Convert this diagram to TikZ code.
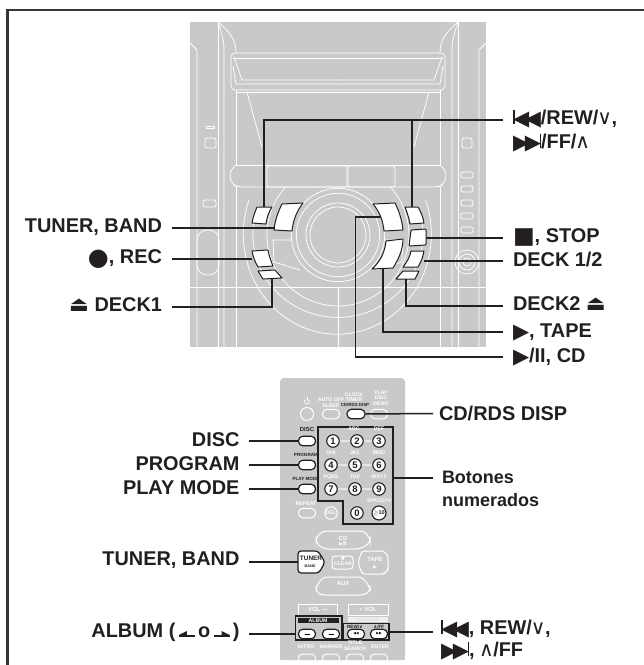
\documentclass[tikz,border=0pt]{standalone}
\usepackage{fontspec}
\setmainfont{Liberation Sans}
\newfontfamily\symf{DejaVu Sans}
\definecolor{ink}{HTML}{231F20}
\definecolor{devgray}{HTML}{C8C9CB}
\newcommand\sy[2][15.5]{{\symf\fontsize{#1}{#1}\selectfont #2}}
\newcommand\syb[3][22]{\raisebox{#3}{\smash{\sy[#1]{#2}}}}
\newcommand\pl{\syb[21]{▶}{-1.4pt}}
\newcommand\bk{\syb[21]{◀}{-1.4pt}}
\newcommand\tbar{\rule{1.6pt}{13.6pt}}
\newcommand\prevs{\tbar\kern-1.6pt\bk\kern-4.4pt\bk}
\newcommand\nexts{\pl\kern-4.4pt\pl\kern-1.6pt\tbar}
\newcommand\ejectg{\syb[21]{⏏}{-.8pt}}
\newcommand\veeg{\kern-1pt{\mdseries\syb[20]{∨}{0pt}}\kern-.5pt}
\newcommand\wedgeg{\kern-1pt{\mdseries\syb[20]{∧}{0pt}}\kern-.5pt}
\newcommand\albarrow[1]{\tikz[baseline=0pt,x=1pt,y=1pt]{\fill[ink] (0,0) rectangle (16,2);\fill[ink] (#1,2) -- (8,2) -- (8,6) -- cycle;}}
\tikzset{
  lab/.style={font=\bfseries\fontsize{19.9}{22}\selectfont,text=ink,inner sep=0pt,text height=14pt,text depth=6pt},
  labl/.style={lab,anchor=east,outer xsep=9.5pt},
  labr/.style={lab,anchor=west,outer xsep=10pt},
  conn/.style={draw=ink,line width=1.5pt,line join=miter},
  frameline/.style={draw=ink!90,line width=2.5pt},
  wl/.style={draw=white,line width=.75pt},
  rwl/.style={draw=white,line width=1pt},
  btn/.style={draw=ink,fill=white,line width=1pt,line join=round},
  num/.style={circle,draw=ink,fill=white,line width=1.1pt,minimum size=12.5pt,inner sep=0pt,font=\bfseries\fontsize{9.5}{10}\selectfont,text=ink},
  oval/.style={draw=ink,fill=white,line width=1.2pt,rounded corners=4.4pt,minimum width=17pt,minimum height=9.5pt,inner sep=0pt},
  wov/.style={rwl,rounded corners=4.4pt,minimum width=17pt,minimum height=9.5pt,inner sep=0pt},
  rw/.style={font=\bfseries\fontsize{5.2}{5.6}\selectfont,text=white,inner sep=0pt,align=center},
  rb/.style={font=\bfseries\fontsize{5.2}{5.6}\selectfont,text=ink,inner sep=0pt,align=center},
}
\newcommand\devhalf{%
  \draw[wl] (190,43) -- (197,50) -- (197,347);
  \draw[wl] (218,22) -- (218,347);
  \draw[wl] (218,22) .. controls (222,35) and (224,40) .. (224,50) -- (224,347);
  \draw[wl] (218,22) .. controls (230,32) and (236,40) .. (236,53);
  \draw[wl] (236,90) -- (236,165);
  \draw[wl] (236,187) -- (236,347);
  \draw[wl] (247,92) -- (262,147);
  \draw[wl] (234,57) -- (242,80) -- (338,80);
  \draw[wl] (233,58) -- (338,58);
  \draw[wl] (233,66) -- (236,84) -- (338,84);
}
\begin{document}
\begin{tikzpicture}[x=1pt,y=-1pt]
\useasboundingbox (0,0) rectangle (644,665);
\path[fill=white] (0,0) rectangle (644,665);
% frame
\draw[frameline] (7.3,665) -- (7.3,10) -- (644,10);
% ---------- main unit ----------
\fill[devgray] (190,22) rectangle (486,347);
\devhalf
\begin{scope}[shift={(676,0)},xscale=-1]\devhalf\end{scope}
\draw[wl,rounded corners=4pt] (231,53) rectangle (445,90);
\draw[wl] (236,92) -- (440,92);
\draw[wl] (236,165) -- (440,165);
\draw[wl,rounded corners=5pt] (236,165) -- (232,168) -- (229,176) -- (233,185) -- (238,187) -- (438,187) -- (443,185) -- (447,176) -- (444,168) -- (440,165);
\draw[wl,rounded corners=2pt] (267,166) rectangle (347,187);
\draw[wl,rounded corners=2pt] (348,166) rectangle (395,187);
\draw[wl] (190,287) -- (486,287);
\draw[wl] (338,287) -- (338,347);
\draw[wl] (338,235) circle[radius=46.7];
\draw[wl] (338,235) circle[radius=41.7];
\draw[wl] (338,235) circle[radius=32];
\draw[wl] (338,235) circle[radius=28];
\draw[wl] (249,200) arc[start angle=200,end angle=-20,x radius=94,y radius=100];
\draw[wl] (258,206) arc[start angle=200,end angle=-20,x radius=85,y radius=83];
\draw[wl] (285.6,187) arc[start angle=222.5,end angle=-42.5,radius=71];
\draw[wl] (292,240) -- (273,240) -- (274,262) -- (300,270);
\draw[wl] (384,240) -- (403,240) -- (402,262) -- (376,270);
% side details
\draw[wl] (206,126) rectangle (214,128);
\draw[wl,rounded corners=1.5pt] (205,138) rectangle (216,148);
\draw[wl,rounded corners=2pt] (203,200) rectangle (216,207);
\draw[wl,rounded corners=10pt] (197,230) rectangle (219,275);
\draw[wl,rounded corners=1.5pt] (462,138) rectangle (472,148);
\foreach \yy in {172,186,200,213,227} \draw[wl,rounded corners=1.5pt] (461,\yy) rectangle (473,\yy+6);
\foreach \rr in {12,8,4} \draw[wl] (467,262) circle[radius=\rr];
% buttons
\draw[btn] (257,207) -- (272,207) .. controls (268,213) and (267,218) .. (266,224) -- (252,223) .. controls (253,217) and (255,212) .. (257,207) -- cycle;
\draw[btn] (282,204) -- (303,203) .. controls (297,211) and (293,220) .. (292,231) -- (274,230) .. controls (275,220) and (278,212) .. (282,204) -- cycle;
\draw[btn] (252,251) -- (268,250) .. controls (269,256) and (271,261) .. (273,266) -- (258,267) .. controls (255,262) and (253,257) .. (252,251) -- cycle;
\draw[btn] (258,271) -- (275,270) -- (282,278) -- (263,279) -- cycle;
\draw[btn] (405,207) -- (418,207) .. controls (421,212) and (423,217) .. (424,223) -- (410,224) .. controls (409,218) and (407,212) .. (405,207) -- cycle;
\draw[btn] (373,204) -- (395,203) .. controls (399,211) and (402,220) .. (403,230) -- (384,231) .. controls (383,220) and (379,211) .. (373,204) -- cycle;
\draw[btn] (386,241) -- (403,239) .. controls (403,250) and (398,260) .. (393,268) -- (372,269) .. controls (380,262) and (385,252) .. (386,241) -- cycle;
\draw[btn,rounded corners=1pt] (411,230) -- (426,229) -- (426,245) -- (409,246) -- cycle;
\draw[btn] (411,251) -- (424,251) .. controls (423,257) and (421,262) .. (418,267) -- (403,267) .. controls (407,262) and (410,257) .. (411,251) -- cycle;
\draw[btn] (403,271) -- (419,271) -- (415,279) -- (396,279) -- cycle;
\coordinate (bPrev) at (264,206.5);
\coordinate (bNext) at (412,206.5);
\coordinate (bTuner) at (274.5,228);
\coordinate (bRec) at (252,259);
\coordinate (bEjA) at (272,279);
\coordinate (bStop) at (426,238);
\coordinate (bDeck) at (424,261);
\coordinate (bEjB) at (406,279);
\coordinate (bTape) at (383,268.5);
\coordinate (bCD) at (381,217);
% labels, main unit
\node[labl] (tunerA) at (171.5,228) {TUNER, BAND};
\node[labl,text depth=6pt] (rec) at (171.5,259) {\syb[24]{●}{-2.2pt}, REC};
\node[labl] (deckA) at (171.5,307) {\ejectg\ DECK1};
\node[labr] (prev) at (503,120) {\prevs/REW/\veeg,};
\node[lab,anchor=base west] (next) at (513,148) {\nexts/FF/\wedgeg};
\node[labr] (stop) at (503,238) {\syb[23]{■}{-1.2pt}, STOP};
\node[labr,text depth=4pt] (deckS) at (503,261) {DECK 1/2};
\node[labr] (deckB) at (503,306) {DECK2 \ejectg};
\node[labr,text depth=4pt] (tape) at (503,332) {\pl, TAPE};
\node[labr,text depth=4pt] (cd) at (503,357) {\pl/II, CD};
% connectors, main unit
\draw[conn] (tunerA.east) -- (bTuner);
\draw[conn] (rec.east) -- (bRec);
\draw[conn] (deckA.east) -| (bEjA);
\draw[conn] (prev.west) -| (bPrev);
\draw[conn] (prev.west -| bNext) -- (bNext);
\draw[conn] (stop.west) -- (bStop);
\draw[conn] (deckS.west) -- (bDeck);
\draw[conn] (deckB.west) -| (bEjB);
\draw[conn] (tape.west) -| (bTape);
\draw[conn] (cd.west) -| (355.5,217) -- (bCD);
% ---------- remote ----------
\fill[devgray,rounded corners=4pt] (280,660) -- (280,378) -- (405,378) -- (405,660) -- cycle;
\fill[devgray] (280,650) rectangle (405,660);
% white connecting bands between number keys
\foreach \yy in {441,465,489} \draw[white,line width=1.4pt,opacity=.5] (333,\yy) -- (379,\yy);
\draw[white,line width=.6pt] (304.7,399.5) arc[start angle=215,end angle=-35,radius=2.8];
\draw[white,line width=.6pt] (307,397) -- (307,401);
\node[rw,draw=white,circle,line width=1pt,minimum size=13pt] (pw) at (307,414) {};
\node[wov] (aoff) at (331,414) {};
\node[wov] (pdisc) at (379,414) {};
\node[rw] (taoff) at (331,403) {AUTO OFF\\SLEEP};
\node[rw] (tclock) at (354,397) {CLOCK\\TIMER};
\node[rw] (tpd) at (381,398) {PLAY\\DISC\\DEMO};
\node[rb] (tcd) at (355,405) {\fontsize{4.4}{5}\selectfont CD/RDS DISP};
\node[oval,minimum width=18pt] (bcdr) at (356,414) {};
\node[rb,font=\bfseries\fontsize{6}{6}\selectfont] (tdisc) at (307,429) {DISC};
\node[rb,font=\bfseries\fontsize{4.6}{5}\selectfont] (tprog) at (306,455) {PROGRAM};
\node[rb,font=\bfseries\fontsize{4.6}{5}\selectfont] (tplay) at (306,479) {PLAY MODE};
\node[oval] (bdisc) at (307,441) {};
\node[oval] (bprog) at (307,465) {};
\node[oval] (bplay) at (307,489) {};
\node[rw] (trep) at (306,504) {REPEAT};
\node[wov] (brep) at (307,513) {};
\node[rw,draw=white,circle,line width=1pt,minimum size=12.5pt] (bdel) at (331,513) {DEL};
% number block
\node[inner sep=0pt,minimum size=0pt] (nbk) at (393,478) {};
\draw[draw=ink,line width=1.3pt] (318,427) -- (393,427) -- (nbk.center) -- (393,524) -- (343,524) -- (343,501) -- (318,501) -- cycle;
\node[rw] (tabc) at (354,429) {ABC};
\node[rw] (tdef) at (379,429) {DEF};
\node[rw] (tghi) at (331,453) {GHI};
\node[rw] (tjkl) at (355,453) {JKL};
\node[rw] (tmno) at (379,453) {MNO};
\node[rw] (tpqr) at (331,477) {PQRS};
\node[rw] (ttuv) at (355,477) {TUV};
\node[rw] (twxy) at (379,477) {WXYZ};
\node[rw] (tspc) at (379,501) {SPACE/*\#};
\node[num] (n1) at (333,441) {1};
\node[num] (n2) at (357,441) {2};
\node[num] (n3) at (379,441) {3};
\node[num] (n4) at (331,465) {4};
\node[num] (n5) at (355,465) {5};
\node[num] (n6) at (379,465) {6};
\node[num] (n7) at (331,489) {7};
\node[num] (n8) at (355,489) {8};
\node[num] (n9) at (379,489) {9};
\node[num] (n0) at (357,513) {0};
\node[num,font=\bfseries\fontsize{5.5}{6}\selectfont,minimum width=14pt] (n10) at (379,513) {$\geq$10};
% function keys
\draw[rwl,rounded corners=4pt] (316,538) -- (322,531) -- (364,531) -- (370,538) -- (370,543) -- (360,549) -- (324,549) -- (316,543) -- cycle;
\node[rw,font=\bfseries\fontsize{6}{6}\selectfont] (tcdk) at (343,538) {CD};
\node[rw] (tcdp) at (343,544) {\sy[4.5]{▶}/II};
\draw[btn,line width=1.2pt,rounded corners=3pt] (298,551) -- (318,551) -- (325,562) -- (319,573) -- (298,573) -- cycle;
\node[rb,font=\bfseries\fontsize{6.4}{6.5}\selectfont] (ttun) at (311,558) {TUNER};
\node[rb,font=\bfseries\fontsize{3.8}{4}\selectfont] (tband) at (310,566) {BAND};
\coordinate (bTun) at (298,562);
\draw[rwl,rounded corners=3pt] (332,556) rectangle (353,569);
\node[rw] (tclr) at (343,561) {\sy[4]{■}\\CLEAR};
\draw[rwl,rounded corners=3pt] (362,551) -- (384,551) -- (388,556) -- (388,570) -- (384,574) -- (362,574) -- (358,562) -- cycle;
\node[rw,font=\bfseries\fontsize{5.8}{6}\selectfont] (ttap) at (375,559) {TAPE};
\node[rw] (ttp2) at (375,567) {\sy[4.5]{▶}};
\draw[rwl,rounded corners=4pt] (316,587) -- (323,577) -- (362,577) -- (370,587) -- (370,592) -- (363,595) -- (322,595) -- (316,592) -- cycle;
\node[rw,font=\bfseries\fontsize{5.8}{6}\selectfont] (taux) at (343,584) {AUX};
\draw[rwl] (298,604) rectangle (337,615);
\draw[rwl] (348,604) rectangle (388,615);
\node[rw,font=\bfseries\fontsize{6}{6}\selectfont] (tvm) at (318,609.5) {VOL ---};
\node[rw,font=\bfseries\fontsize{6}{6}\selectfont] (tvp) at (368,609.5) {+ VOL};
% album and skip groups
\fill[white!70!devgray] (348,617) rectangle (388,622);
\node[rw,text=devgray!60!white] (tcur) at (368,619.5) {CURSOR};
\fill[ink] (298,618) rectangle (339,623);
\node[rw] (talb) at (318,620.5) {ALBUM};
\node[inner sep=0pt,minimum size=0pt] (albk) at (296,634) {};
\draw[draw=ink,line width=1.2pt] (295.5,616) rectangle (342,640);
\node[inner sep=0pt,minimum size=0pt] (skipk) at (389,632) {};
\draw[draw=ink,line width=1.2pt] (343.5,623.5) rectangle (389,640);
\node[rb,font=\bfseries\fontsize{4.6}{5}\selectfont] (trew) at (355,626.5) {REW/\sy[4.5]{∨}};
\node[rb,font=\bfseries\fontsize{4.6}{5}\selectfont] (tff) at (379,626.5) {\sy[4.5]{∧}/FF};
\node[oval] (ba1) at (307,634) {\rule{5pt}{.7pt}};
\node[oval] (ba2) at (331,634) {\rule{5pt}{.7pt}};
\node[oval,font=\fontsize{4}{4}\selectfont] (bs1) at (356,634) {\sy[3.5]{◀◀}};
\node[oval,font=\fontsize{4}{4}\selectfont] (bs2) at (379,634) {\sy[3.5]{▶▶}};
\node[rw] (tintro) at (306,647) {INTRO};
\node[rw] (tmark) at (331,647) {MARKER};
\node[rw] (ttitle) at (355,646) {TITLE\\SEARCH};
\node[rw] (tent) at (380,647) {ENTER};
\foreach \xx in {307,331,355,379} \draw[rwl,rounded corners=4pt] (\xx-8.5,660) -- (\xx-8.5,654) -- (\xx+8.5,654) -- (\xx+8.5,660);
% labels, remote
\node[labl,text depth=4pt] (disc) at (249,441) {DISC};
\node[labl,text depth=4pt] (prog) at (249,465) {PROGRAM};
\node[labl,text depth=4pt] (play) at (249,489) {PLAY MODE};
\node[labl,text depth=8pt] (tunerB) at (249,562) {TUNER, BAND};
\node[labl,text depth=8pt] (album) at (249,634) {ALBUM (\,\albarrow{0}\,o\,\albarrow{16}\,)};
\node[lab,anchor=west,outer xsep=6pt,text depth=0pt] (cdrds) at (433,413.5) {CD/RDS DISP};
\node[lab,anchor=west,outer xsep=9pt,font=\bfseries\fontsize{18}{20}\selectfont,text depth=3pt] (bot) at (433,478) {Botones};
\node[lab,anchor=base west,font=\bfseries\fontsize{18}{20}\selectfont] (bot2) at (442,506) {numerados};
\node[lab,anchor=west,outer xsep=8pt] (skipA) at (433,630) {\prevs, REW/\veeg,};
\node[lab,anchor=base west] (skipB) at (441,656) {\nexts, \wedgeg/FF};
% connectors, remote
\draw[conn] (cdrds.west) -- (bcdr.east);
\draw[conn] (bot.west) -- (nbk);
\draw[conn] (disc.east) -- (bdisc.west);
\draw[conn] (prog.east) -- (bprog.west);
\draw[conn] (play.east) -- (bplay.west);
\draw[conn] (tunerB.east) -- (bTun);
\draw[conn] (album.east) -- (albk);
\draw[conn] ([yshift=-2pt]skipA.west) -- (skipk);
\end{tikzpicture}
\end{document}
